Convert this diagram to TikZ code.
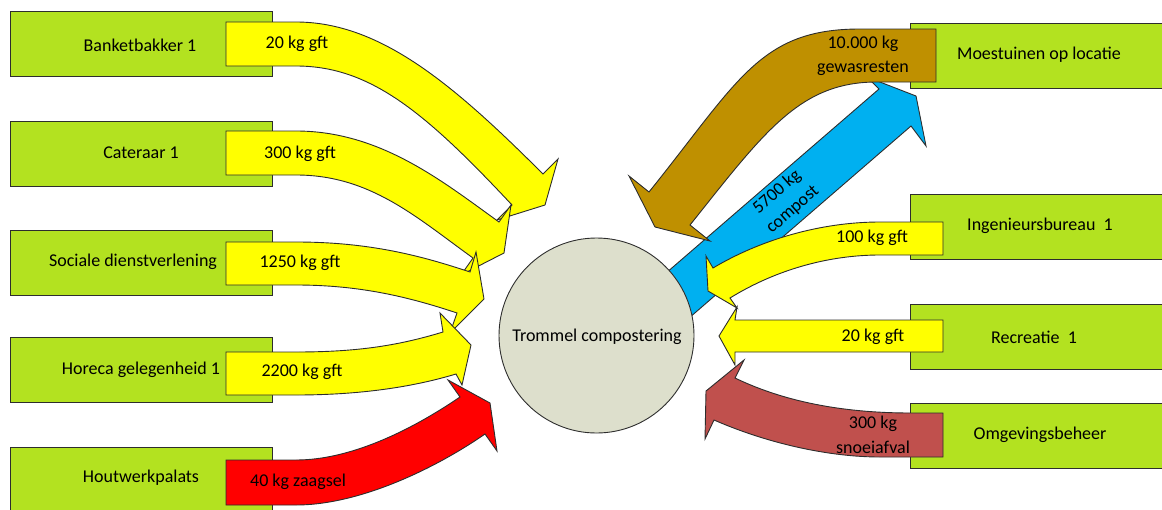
\documentclass[tikz,border=0pt]{standalone}
\usepackage{fontspec}
\setmainfont{Carlito}
\definecolor{boxgreen}{RGB}{179,226,32}
\definecolor{gftyellow}{RGB}{255,255,0}
\definecolor{woodred}{RGB}{255,0,0}
\definecolor{prunered}{RGB}{192,80,77}
\definecolor{cropbrown}{RGB}{191,144,0}
\definecolor{compostblue}{RGB}{0,176,240}
\definecolor{drumgray}{RGB}{221,223,204}
\definecolor{edgegray}{RGB}{45,45,45}
\begin{document}
\begin{tikzpicture}[x=1pt,y=-1pt,
  outline/.style={draw=edgegray,line width=0.9pt,line join=miter},
  srcbox/.style={outline,fill=boxgreen,minimum width=262pt,minimum height=65pt,anchor=north west,inner sep=0pt},
  lbl/.style={font=\fontsize{18}{24}\selectfont,text=black,inner sep=0pt,align=center},
  yarrow/.style={outline,fill=gftyellow}
]
\useasboundingbox (0,0) rectangle (1162,509);
\clip (0,0) rectangle (1162,509);

% left source boxes
\node[srcbox] (bank) at (10,11) {};
\node[srcbox] (cat) at (10,121) {};
\node[srcbox] (soc) at (10,230) {};
\node[srcbox] (hor) at (10,337) {};
\node[srcbox] (hout) at (10,447) {};
% right boxes
\node[srcbox] (moes) at (910,23) {};
\node[srcbox] (ing) at (910,194) {};
\node[srcbox] (rec) at (910,304) {};
\node[srcbox] (omg) at (910,403) {};

% left arrows
\path[yarrow] (226,22) -- (296,22) .. controls (380,22) and (453,84) .. (543,174)
  -- (558,159) -- (545,205) -- (497,220) -- (512,205)
  .. controls (425,112) and (370,66) .. (296,66) -- (226,66) -- cycle;
\path[yarrow] (226,131) -- (296,131) .. controls (380,131) and (442,181) .. (499,222)
  -- (511,205) -- (504,253) -- (461,275) -- (473,258)
  .. controls (416,217) and (370,175) .. (296,175) -- (226,175) -- cycle;
\path[yarrow] (226,242) -- (296,242) .. controls (370,242) and (422,256) .. (470,272)
  -- (476,252) -- (484,299) -- (450,333) -- (457,313)
  .. controls (409,297) and (360,285) .. (296,285) -- (226,285) -- cycle;
\path[yarrow] (226,352) -- (296,352) .. controls (360,352) and (400,345) .. (443,332)
  -- (440,313) -- (471,345) -- (462,385) -- (456,374)
  .. controls (413,387) and (360,395) .. (296,395) -- (226,395) -- cycle;
\path[outline,fill=woodred] (226,460) -- (296,460) .. controls (350,460) and (410,431) .. (460,397)
  -- (448,380) -- (490,403) -- (497,451) -- (485,434)
  .. controls (436,468) and (360,505) .. (296,505) -- (226,505) -- cycle;

% compost arrow (behind drum)
\path[outline,fill=compostblue] (651,286) -- (879,89) -- (867,77) -- (916,96)
  -- (926,146) -- (911,126) -- (674,331) -- cycle;

% drum
\node[circle,outline,fill=drumgray,minimum size=195pt,inner sep=0pt] (drum) at (596.5,335.5) {};

% crop residue arrow
\path[outline,fill=cropbrown] (936,29) -- (860,29) .. controls (760,29) and (739,80) .. (649,192)
  -- (629,176) -- (655,227) -- (710,241) -- (690,225)
  .. controls (765,131) and (800,82) .. (877,82) -- (936,82) -- cycle;

% right arrows
\path[yarrow] (943,222) -- (880,222) .. controls (820,222) and (760,240) .. (713,268)
  -- (706,256) -- (708,291) -- (737,308) -- (730,298)
  .. controls (777,269) and (830,255) .. (880,255) -- (943,255) -- cycle;
\path[yarrow] (943,320) -- (735,320) -- (737,307) -- (719,336) -- (735,365)
  -- (735,352) -- (943,352) -- cycle;
\path[outline,fill=prunered] (943,413) -- (911,413) .. controls (850,413) and (789,404) .. (735,378)
  -- (744,360) -- (706,391) -- (705,439) -- (714,420)
  .. controls (769,444) and (830,457) .. (880,457) -- (943,457) -- cycle;

% box labels
\node[lbl] (tbank) at (140,45) {Banketbakker 1};
\node[lbl] (tcat) at (141,153) {Cateraar 1};
\node[lbl] (tsoc) at (133,262) {Sociale dienstverlening};
\node[lbl] (thor) at (141,370) {Horeca gelegenheid 1};
\node[lbl] (thout) at (141,478) {Houtwerkpalats};
\node[lbl] (tmoes) at (1039,55) {Moestuinen op locatie};
\node[lbl] (ting) at (1040,226) {Ingenieursbureau\ \ 1};
\node[lbl] (trec) at (1034,337) {Recreatie\ \ 1};
\node[lbl] (tomg) at (1040,435) {Omgevingsbeheer};
\node[lbl] (tdrum) at (597,337) {Trommel compostering};

% flow labels
\node[lbl] (f1) at (297,44) {20 kg gft};
\node[lbl] (f2) at (300,154) {300 kg gft};
\node[lbl] (f3) at (300,263) {1250 kg gft};
\node[lbl] (f4) at (302,372) {2200 kg gft};
\node[lbl] (f5) at (298,482) {40 kg zaagsel};
\node[lbl] (f6a) at (863,44) {10.000 kg};
\node[lbl] (f6b) at (863,68) {gewasresten};
\node[lbl] (f7) at (872,238) {100 kg gft};
\node[lbl] (f8) at (873,337) {20 kg gft};
\node[lbl] (f9a) at (873,423.5) {300 kg};
\node[lbl] (f9b) at (873,447.5) {snoeiafval};
\node[lbl,rotate=41] (f10a) at (777,192) {5700 kg};
\node[lbl,rotate=41] (f10b) at (793,210) {compost};
\end{tikzpicture}
\end{document}
